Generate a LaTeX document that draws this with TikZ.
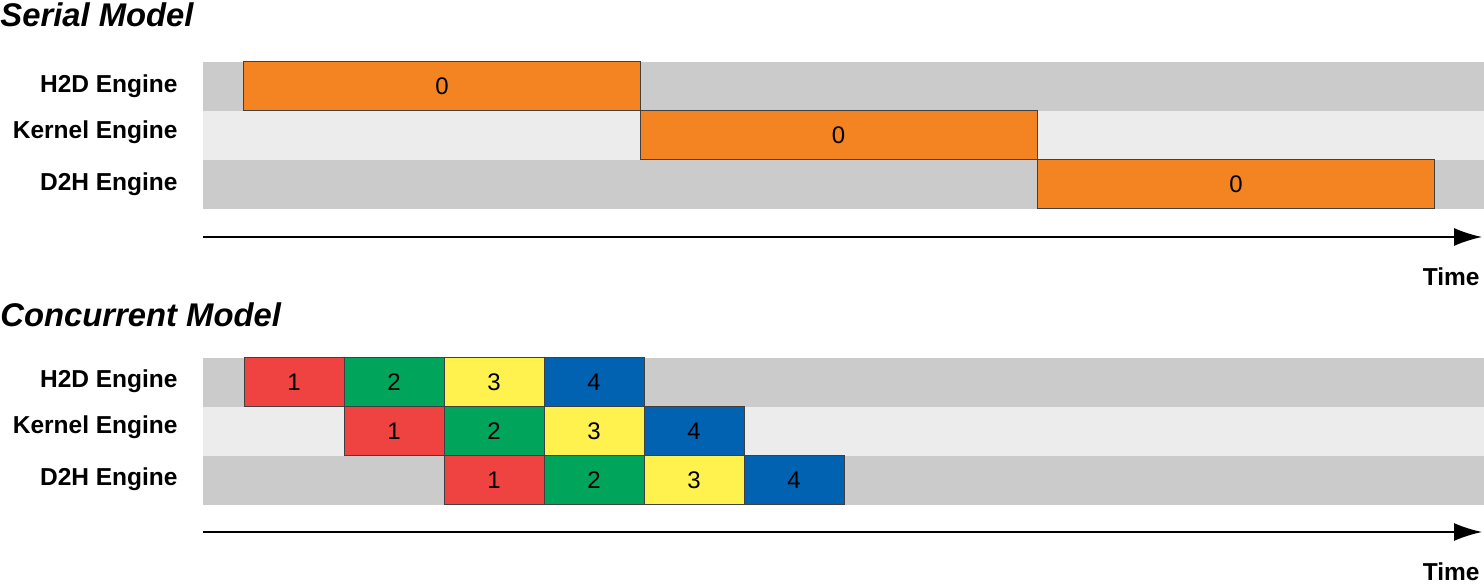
\documentclass[tikz,border=0pt]{standalone}
\usepackage{fontspec}
\setmainfont{Liberation Sans}
\usetikzlibrary{arrows.meta}
\definecolor{bandD}{HTML}{CBCBCB}
\definecolor{bandL}{HTML}{ECECEC}
\definecolor{cOr}{HTML}{F38421}
\definecolor{cRe}{HTML}{EF4341}
\definecolor{cGr}{HTML}{00A55B}
\definecolor{cYe}{HTML}{FFF24F}
\definecolor{cBl}{HTML}{0062B1}
\tikzset{
  box/.style={draw=black!75, line width=0.5pt, inner sep=0pt, outer sep=0pt,
    minimum height=24.5pt, minimum width=50pt, font=\fontsize{12}{14}\selectfont},
  wide/.style={box, minimum width=198.5pt},
  lbl/.style={anchor=east, inner sep=0pt, font=\fontsize{12.25}{14}\selectfont\bfseries},
  ttl/.style={anchor=west, inner sep=0pt, font=\fontsize{16.4}{18}\selectfont\bfseries\itshape},
  timeaxis/.style={line width=0.8pt, -{Latex[length=14pt,width=9pt]}},
}
\begin{document}
\begin{tikzpicture}[x=0.5pt,y=-0.5pt]
\useasboundingbox (0,0) rectangle (1484,587);
% ---------- Serial model ----------
\node[ttl] (t1) at (0,15) {Serial Model};
\fill[bandD] (203,62) rectangle (1484,111);
\fill[bandL] (203,111) rectangle (1484,160);
\fill[bandD] (203,160) rectangle (1484,209);
\node[lbl] (l1) at (178,86) {H2D Engine};
\node[lbl] (l2) at (178,132) {Kernel Engine};
\node[lbl] (l3) at (178,184) {D2H Engine};
\node[wide, fill=cOr] (s1) at (442,86.5) {0};
\node[wide, fill=cOr] (s2) at (838.5,135.5) {0};
\node[wide, fill=cOr] (s3) at (1236,184.5) {0};
\coordinate (a1s) at (203,237);
\coordinate (a1e) at (1482,237);
\draw[timeaxis] (a1s) -- (a1e);
\node[lbl] (tm1) at (1480,277) {Time};
% ---------- Concurrent model ----------
\node[ttl] (t2) at (0,315) {Concurrent Model};
\fill[bandD] (203,358) rectangle (1484,407);
\fill[bandL] (203,407) rectangle (1484,456);
\fill[bandD] (203,456) rectangle (1484,505);
\node[lbl] (m1) at (178,381) {H2D Engine};
\node[lbl] (m2) at (178,427) {Kernel Engine};
\node[lbl] (m3) at (178,479) {D2H Engine};
% H2D
\node[box, fill=cRe] (h1) at (294,382.5) {1};
\node[box, fill=cGr] (h2) at (394,382.5) {2};
\node[box, fill=cYe] (h3) at (494,382.5) {3};
\node[box, fill=cBl] (h4) at (594,382.5) {4};
% Kernel
\node[box, fill=cRe] (k1) at (394,431.5) {1};
\node[box, fill=cGr] (k2) at (494,431.5) {2};
\node[box, fill=cYe] (k3) at (594,431.5) {3};
\node[box, fill=cBl] (k4) at (694,431.5) {4};
% D2H
\node[box, fill=cRe] (d1) at (494,480.5) {1};
\node[box, fill=cGr] (d2) at (594,480.5) {2};
\node[box, fill=cYe] (d3) at (694,480.5) {3};
\node[box, fill=cBl] (d4) at (794,480.5) {4};
\coordinate (a2s) at (203,532);
\coordinate (a2e) at (1482,532);
\draw[timeaxis] (a2s) -- (a2e);
\node[lbl] (tm2) at (1480,572) {Time};
\end{tikzpicture}
\end{document}
